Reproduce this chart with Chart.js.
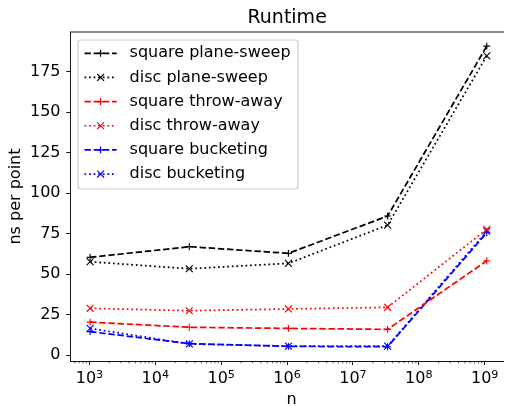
<!DOCTYPE html>
<html><head><meta charset="utf-8">
<script src="https://cdn.jsdelivr.net/npm/chart.js@4.4.1/dist/chart.umd.min.js"></script>
<style>html,body{margin:0;padding:0;background:#fff;overflow:hidden}canvas{display:block}</style>
</head><body>
<canvas id="c" width="510" height="406"></canvas>
<script>
// ---- data ----
const sizes = [1024, 32768, 1048576, 33554432, 1073741824];   // n = 2^10 .. 2^30
const squarePlaneSweep = [60.4, 67.0, 62.9, 85.9, 190.7];
const discPlaneSweep   = [57.7, 53.4, 56.7, 80.3, 184.7];
const squareThrowAway  = [20.5, 17.3, 16.6, 16.0, 58.3];
const discThrowAway    = [29.0, 27.5, 28.6, 29.6, 77.7];
const squareBucketing  = [14.6, 7.2, 5.5, 5.3, 75.6];
const discBucketing    = [16.6, 7.0, 5.7, 5.7, 76.6];
const seriesLabels = ['square plane-sweep','disc plane-sweep','square throw-away','disc throw-away','square bucketing','disc bucketing'];
const yTickValues = [0, 25, 50, 75, 100, 125, 150, 175];
const xTickExponents = [3, 4, 5, 6, 7, 8, 9];
const titleText = 'Runtime';
const xLabelText = 'n';
const yLabelText = 'ns per point';

// ---- styles ----
const FONT = "'DejaVu Sans', sans-serif";
const LW = 1.73;
const DASHED = [6.4, 2.77];
const DOTTED = [1.73, 2.85];
const seriesValues = [squarePlaneSweep, discPlaneSweep, squareThrowAway, discThrowAway, squareBucketing, discBucketing];
const seriesColors = ['#000000','#000000','#ff0000','#ff0000','#0000ff','#0000ff'];
const seriesDashes = [DASHED, DOTTED, DASHED, DOTTED, DASHED, DOTTED];
const seriesMarkers = ['cross','crossRot','cross','crossRot','cross','crossRot'];
const MS = 3.45; // half marker size

const datasets = seriesLabels.map((label, i) => ({
  label,
  data: sizes.map((x, j) => ({x, y: seriesValues[i][j]})),
  borderColor: seriesColors[i],
  backgroundColor: seriesColors[i],
  borderWidth: LW,
  borderDash: seriesDashes[i],
  borderCapStyle: 'butt',
  borderJoinStyle: 'round',
  pointStyle: seriesMarkers[i],
  pointRadius: seriesMarkers[i] === 'cross' ? MS : MS / Math.SQRT1_2,
  pointBorderWidth: 1.15,
  pointBorderColor: seriesColors[i],
  pointBackgroundColor: seriesColors[i],
  pointHoverRadius: 0,
  fill: false,
  tension: 0
}));

const extras = {
  id: 'extras',
  afterDraw(chart) {
    const ctx = chart.ctx, ca = chart.chartArea;
    const xs = chart.scales.x;
    ctx.save();
    // top spine
    ctx.strokeStyle = '#000'; ctx.lineWidth = 0.92;
    ctx.beginPath(); ctx.moveTo(ca.left - 0.46, ca.top); ctx.lineTo(ca.right, ca.top); ctx.stroke();
    // minor x ticks
    ctx.lineWidth = 0.69;
    for (let e = 2; e <= 9; e++) {
      for (let k = 2; k <= 9; k++) {
        const v = k * Math.pow(10, e);
        if (v < xs.min || v > xs.max) continue;
        const px = xs.getPixelForValue(v);
        ctx.beginPath(); ctx.moveTo(px, ca.bottom); ctx.lineTo(px, ca.bottom + 2.3); ctx.stroke();
      }
    }
    // x tick labels 10^k
    ctx.fillStyle = '#000';
    ctx.textBaseline = 'alphabetic'; ctx.textAlign = 'left';
    const baseY = 383.3;
    xTickExponents.forEach(e => {
      const px = xs.getPixelForValue(Math.pow(10, e));
      ctx.font = '16px ' + FONT;
      const w1 = ctx.measureText('10').width;
      ctx.font = '11.2px ' + FONT;
      const w2 = ctx.measureText(String(e)).width;
      const x0 = px - (w1 + w2) / 2;
      ctx.font = '16px ' + FONT;
      ctx.fillText('10', x0, baseY);
      ctx.font = '11.2px ' + FONT;
      ctx.fillText(String(e), x0 + w1, baseY - 5);
    });
    // axis labels
    ctx.font = '16px ' + FONT;
    ctx.textAlign = 'center';
    ctx.fillText(xLabelText, 291.5, 404);
    ctx.save();
    ctx.translate(19.5, (ca.top + ca.bottom) / 2);
    ctx.rotate(-Math.PI / 2);
    ctx.fillText(yLabelText, 0, 0);
    ctx.restore();
    // legend
    const lx = 78, ly = 40, lw = 220, lh = 149, r = 3;
    ctx.beginPath();
    ctx.moveTo(lx + r, ly); ctx.lineTo(lx + lw - r, ly); ctx.quadraticCurveTo(lx + lw, ly, lx + lw, ly + r);
    ctx.lineTo(lx + lw, ly + lh - r); ctx.quadraticCurveTo(lx + lw, ly + lh, lx + lw - r, ly + lh);
    ctx.lineTo(lx + r, ly + lh); ctx.quadraticCurveTo(lx, ly + lh, lx, ly + lh - r);
    ctx.lineTo(lx, ly + r); ctx.quadraticCurveTo(lx, ly, lx + r, ly); ctx.closePath();
    ctx.fillStyle = 'rgba(255,255,255,0.8)'; ctx.fill();
    ctx.strokeStyle = '#cccccc'; ctx.lineWidth = 1.15; ctx.stroke();
    chart.data.datasets.forEach((ds, i) => {
      const cy = 53.3 + i * 24.15;
      const hx0 = 84.5, hx1 = 116.7, hc = (hx0 + hx1) / 2;
      ctx.strokeStyle = ds.borderColor; ctx.lineWidth = ds.borderWidth;
      ctx.setLineDash(ds.borderDash); ctx.lineCap = 'butt';
      ctx.beginPath(); ctx.moveTo(hx0, cy); ctx.lineTo(hx1, cy); ctx.stroke();
      ctx.setLineDash([]);
      ctx.lineWidth = ds.pointBorderWidth;
      ctx.beginPath();
      if (ds.pointStyle === 'cross') {
        ctx.moveTo(hc - MS, cy); ctx.lineTo(hc + MS, cy);
        ctx.moveTo(hc, cy - MS); ctx.lineTo(hc, cy + MS);
      } else {
        ctx.moveTo(hc - MS, cy - MS); ctx.lineTo(hc + MS, cy + MS);
        ctx.moveTo(hc - MS, cy + MS); ctx.lineTo(hc + MS, cy - MS);
      }
      ctx.stroke();
      ctx.fillStyle = '#000'; ctx.font = '16px ' + FONT;
      ctx.textAlign = 'left'; ctx.textBaseline = 'middle';
      ctx.fillText(ds.label, 129.6, cy);
    });
    ctx.restore();
  }
};

new Chart(document.getElementById('c'), {
  type: 'line',
  data: { datasets },
  plugins: [extras],
  options: {
    responsive: false,
    animation: false,
    devicePixelRatio: 1,
    layout: { padding: 0 },
    plugins: {
      legend: { display: false },
      tooltip: { enabled: false },
      title: {
        display: true, text: titleText, fullSize: false, color: '#000',
        font: { family: FONT, size: 19, weight: 'normal' },
        padding: { top: 6.2, bottom: 3 }
      }
    },
    scales: {
      x: {
        type: 'logarithmic', position: 'bottom',
        min: Math.pow(10, 2.7093), max: Math.pow(10, 9.292),
        afterBuildTicks: s => { s.ticks = xTickExponents.map(e => ({ value: Math.pow(10, e), major: true })); },
        afterFit: s => { s.height = 45; },
        ticks: { display: false },
        grid: { display: true, drawOnChartArea: false, drawTicks: true, tickLength: 4, tickWidth: 0.92, tickColor: '#000' },
        border: { display: true, color: '#000', width: 0.92 }
      },
      y: {
        type: 'linear', position: 'left',
        min: -3.5, max: 199.4,
        afterBuildTicks: s => { s.ticks = yTickValues.map(v => ({ value: v })); },
        afterFit: s => { s.width = 70.3; },
        ticks: { color: '#000', font: { family: FONT, size: 16 }, padding: 5.8 },
        grid: { display: true, drawOnChartArea: false, drawTicks: true, tickLength: 4, tickWidth: 0.92, tickColor: '#000' },
        border: { display: true, color: '#000', width: 0.92 }
      }
    }
  }
});
</script>
</body></html>
